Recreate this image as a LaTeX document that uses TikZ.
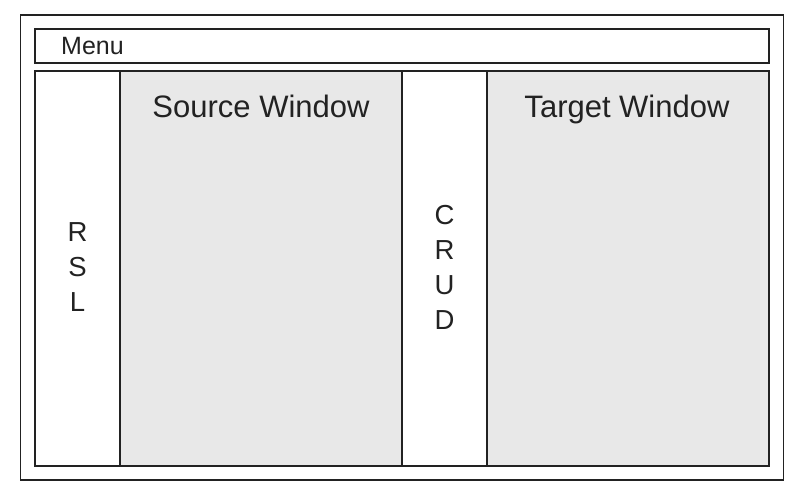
\documentclass[tikz,border=0pt]{standalone}
\usepackage{fontspec}
\setmainfont{Liberation Sans}
\definecolor{linec}{HTML}{222222}
\definecolor{panel}{HTML}{E8E8E8}
\begin{document}
\begin{tikzpicture}[x=1pt,y=-1pt,
  box/.style={draw=linec,line width=1.8pt},
  title/.style={font=\fontsize{31}{36}\selectfont,text=linec,anchor=base},
  vlab/.style={font=\fontsize{27.5}{35}\selectfont,text=linec,align=center,inner sep=0pt}]
\useasboundingbox (0,0) rectangle (804,497);
\fill[white] (0,0) rectangle (804,497);
% outer
\draw[box] (20.5,15) rectangle (783.5,480);
% menu
\draw[box] (35,29) rectangle (769,63);
\node[font=\fontsize{25}{30}\selectfont,text=linec,anchor=base west,inner sep=0pt] (menu) at (61,55) {Menu};
% panels
\fill[panel] (120,71) rectangle (402,466);
\fill[panel] (487,71) rectangle (769,466);
\draw[box] (35,71) rectangle (769,466);
\draw[box] (120,71) -- (120,466);
\draw[box] (402,71) -- (402,466);
\draw[box] (487,71) -- (487,466);
\node[title] (src) at (261,118) {Source Window};
\node[title] (tgt) at (627,118) {Target Window};
\node[vlab] (rsl) at (77.5,267) {R\\S\\L};
\node[vlab] (crud) at (444.5,267) {C\\R\\U\\D};
\end{tikzpicture}
\end{document}
